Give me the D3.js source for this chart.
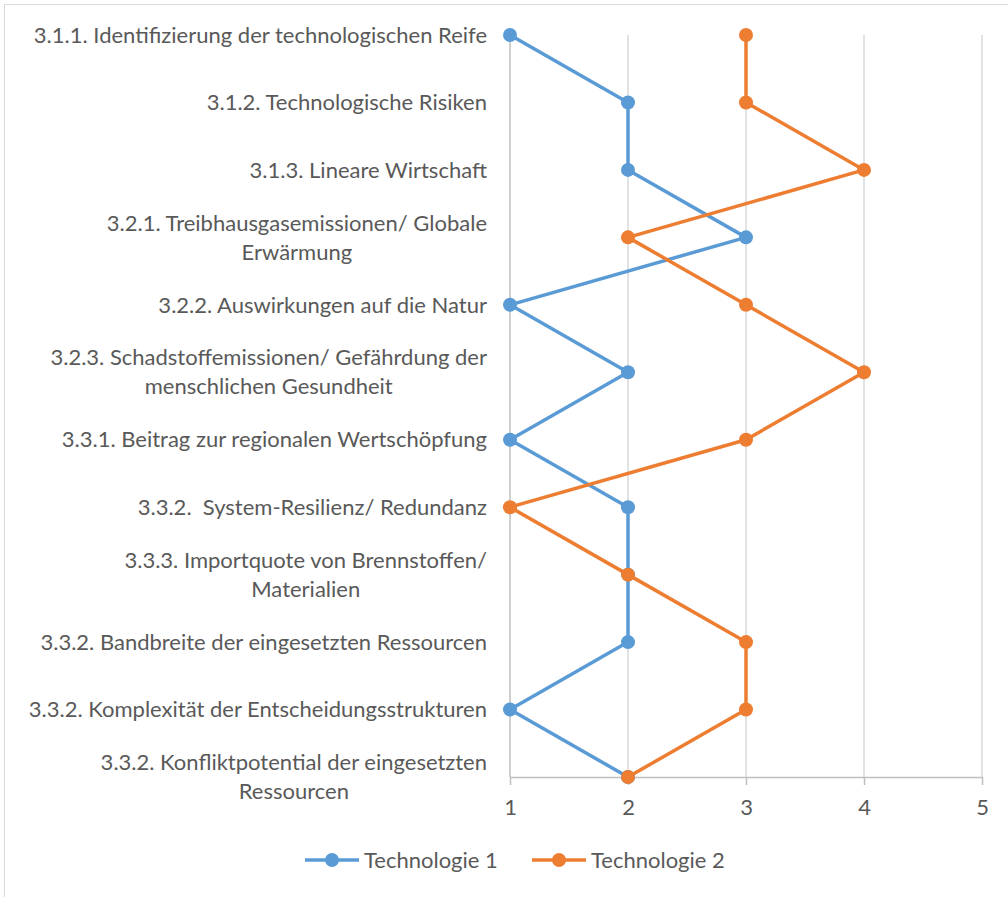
<!DOCTYPE html>
<html>
<head>
<meta charset="utf-8">
<script src="https://cdn.jsdelivr.net/npm/d3@7"></script>
<style>
  html, body { margin: 0; padding: 0; background: #fff; }
  svg text { font-family: Lato, "Open Sans", sans-serif; fill: #595959; white-space: pre; }
</style>
</head>
<body>
<svg id="chart" width="1008" height="897"></svg>
<script>
// Criteria (top to bottom); "\n" marks a line break in the label
const categories = [
  "3.1.1. Identifizierung der technologischen Reife",
  "3.1.2. Technologische Risiken",
  "3.1.3. Lineare Wirtschaft",
  "3.2.1. Treibhausgasemissionen/ Globale\nErwärmung",
  "3.2.2. Auswirkungen auf die Natur",
  "3.2.3. Schadstoffemissionen/ Gefährdung der\nmenschlichen Gesundheit",
  "3.3.1. Beitrag zur regionalen Wertschöpfung",
  "3.3.2.  System-Resilienz/ Redundanz",
  "3.3.3. Importquote von Brennstoffen/\nMaterialien",
  "3.3.2. Bandbreite der eingesetzten Ressourcen",
  "3.3.2. Komplexität der Entscheidungsstrukturen",
  "3.3.2. Konfliktpotential der eingesetzten\nRessourcen"
];
const technologie1 = [1, 2, 2, 3, 1, 2, 1, 2, 2, 2, 1, 2];
const technologie2 = [3, 3, 4, 2, 3, 4, 3, 1, 2, 3, 3, 2];
const seriesNames = ["Technologie 1", "Technologie 2"];
const seriesColors = ["#5B9BD5", "#ED7D31"];
const tickValues = [1, 2, 3, 4, 5];

const fontSize = 22;
const svg = d3.select("#chart");

// chart frame
svg.append("rect")
  .attr("x", 4.5).attr("y", 4.5)
  .attr("width", 1010).attr("height", 900)
  .attr("fill", "#fff").attr("stroke", "#d9d9d9").attr("stroke-width", 1);

const x = d3.scaleLinear().domain([1, 5]).range([510, 982]);
const y = d3.scalePoint().domain(d3.range(categories.length)).range([35, 777]);
const yTop = y(0), yBottom = y(categories.length - 1);

// vertical gridlines
svg.append("g").selectAll("line")
  .data(tickValues.slice(1))
  .join("line")
  .attr("x1", d => x(d)).attr("x2", d => x(d))
  .attr("y1", yTop).attr("y2", yBottom)
  .attr("stroke", "#d9d9d9").attr("stroke-width", 1.5);

// category axis line
svg.append("line")
  .attr("x1", x(1)).attr("x2", x(1))
  .attr("y1", yTop).attr("y2", yBottom)
  .attr("stroke", "#bfbfbf").attr("stroke-width", 1.5);

// value axis at bottom
const xAxis = d3.axisBottom(x).tickValues(tickValues).tickFormat(d3.format("d"))
  .tickSizeInner(8).tickSizeOuter(0).tickPadding(14);
const gx = svg.append("g").attr("transform", `translate(0,${yBottom})`).call(xAxis);
gx.select(".domain").attr("stroke", "#bfbfbf").attr("stroke-width", 1.5);
gx.selectAll(".tick line").attr("stroke", "#bfbfbf").attr("stroke-width", 1.5);
gx.selectAll(".tick text")
  .style("font-family", "Lato, 'Open Sans', sans-serif")
  .attr("font-size", fontSize).attr("fill", "#595959");

// category labels, right-aligned block with centred lines
const labelRight = 487;
const lineGap = 29;
const labels = svg.append("g").attr("font-size", fontSize);
categories.forEach((c, i) => {
  const lines = c.split("\n");
  const t = labels.append("text").attr("text-anchor", "middle");
  lines.forEach((ln, j) => {
    t.append("tspan")
      .attr("x", 0)
      .attr("y", y(i) + (j - (lines.length - 1) / 2) * lineGap)
      .attr("dy", "0.35em")
      .text(ln);
  });
  const w = t.node().getBBox().width;
  t.attr("transform", `translate(${labelRight - w / 2},0)`);
});

// series lines + markers
const series = [technologie1, technologie2];
const line = d3.line().x(d => x(d[0])).y(d => y(d[1]));
series.forEach((vals, s) => {
  const pts = vals.map((v, i) => [v, i]);
  svg.append("path")
    .datum(pts)
    .attr("d", line)
    .attr("fill", "none")
    .attr("stroke", seriesColors[s])
    .attr("stroke-width", 3.5)
    .attr("stroke-linejoin", "round");
  svg.append("g").selectAll("circle")
    .data(pts)
    .join("circle")
    .attr("cx", d => x(d[0])).attr("cy", d => y(d[1]))
    .attr("r", 7)
    .attr("fill", seriesColors[s]);
});

// legend
const legendY = 860;
const legendX = [305, 532];
seriesNames.forEach((name, s) => {
  const g = svg.append("g").attr("transform", `translate(${legendX[s]},${legendY})`);
  g.append("line").attr("x1", 0).attr("x2", 54).attr("y1", 0).attr("y2", 0)
    .attr("stroke", seriesColors[s]).attr("stroke-width", 3.5);
  g.append("circle").attr("cx", 27).attr("cy", 0).attr("r", 7).attr("fill", seriesColors[s]);
  g.append("text").attr("x", 59).attr("y", 0).attr("dy", "0.35em")
    .attr("font-size", fontSize).text(name);
});
</script>
</body>
</html>
